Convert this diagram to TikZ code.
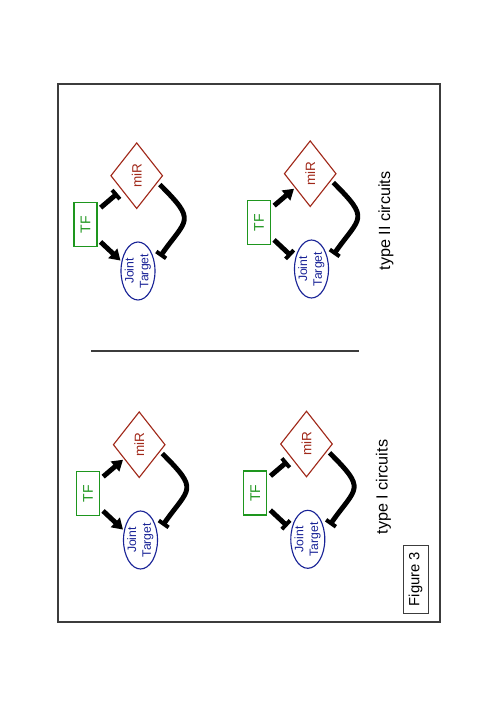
\documentclass[tikz,border=0pt]{standalone}
\usepackage{fontspec}
\setmainfont{Liberation Sans}
\usepackage{graphicx}
\usetikzlibrary{shapes.geometric,arrows.meta}
\definecolor{tfgreen}{RGB}{30,150,30}
\definecolor{mirred}{RGB}{160,40,25}
\definecolor{tgtblue}{RGB}{25,35,150}
\definecolor{framegray}{RGB}{60,60,60}
\begin{document}
\begin{tikzpicture}[x=0.25mm,y=-0.25mm,
  tfbox/.style={draw=tfgreen,text=tfgreen,line width=0.9pt,minimum width=5.75mm,minimum height=11mm,inner sep=0pt,font=\fontsize{10}{12}\selectfont},
  mirdia/.style={diamond,draw=mirred,text=mirred,line width=0.8pt,minimum width=13mm,minimum height=16.5mm,inner sep=0pt,font=\fontsize{9.6}{11}\selectfont},
  tgtell/.style={ellipse,draw=tgtblue,line width=0.8pt,minimum width=8.5mm,minimum height=14.5mm,inner sep=0pt},
  tgttext/.style={text=tgtblue,inner sep=0pt,font=\fontsize{8.7}{10.5}\selectfont},
  link/.style={line width=3.5pt,black},
  act/.style={link,-{Triangle[length=7.5pt,width=9pt]},shorten <=1mm,shorten >=0.3mm},
  inh/.style={link,-{Bar[width=8.5pt,line width=2.8pt]},shorten <=1mm,shorten >=1.3mm},
  curveinh/.style={link,-{Bar[width=8.5pt,line width=2.8pt]},shorten <=0.7mm,shorten >=2.2mm},
  lbl/.style={rotate=90,inner sep=0pt,font=\fontsize{11.5}{13}\selectfont}]
\useasboundingbox (0,0) rectangle (496,702);
\draw[framegray,line width=0.8pt] (58,84) rectangle (440,622);
\coordinate (sepL) at (91,351);
\coordinate (sepR) at (359,351);
\draw[framegray,line width=1pt] (sepL) -- (sepR);
\foreach \n/\x/\y/\a/\b in {a/85.5/224.7/inh/act, b/259/222.7/act/inh, c/88/493.7/act/act, d/255.3/493/inh/inh}{
  \node[tfbox] (\n tf) at (\x,\y) {\rotatebox{90}{TF}};
  \node[mirdia] (\n mir) at (\x+51.2,\y-49) {\rotatebox{90}{miR}};
  \node[tgtell,label={[tgttext]center:\rotatebox{90}{\begin{tabular}{@{}c@{}}Joint\\Target\end{tabular}}}] (\n tgt) at (\x+52.5,\y+46.3) {};
  \draw[\a] (\n tf.50) -- (\n mir.223);
  \draw[\b] (\n tf.-50) -- (\n tgt.150);
  \draw[curveinh] (\n mir.-18) to[out=-45,in=55,looseness=1.75] (\n tgt.23);
}
\node[lbl] (t2) at (386,221) {type II circuits};
\node[lbl] (t1) at (383.5,487) {type I circuits};
\node[draw=framegray,line width=0.6pt,rotate=90,minimum width=17mm,minimum height=6.25mm,inner sep=0pt,font=\fontsize{10.5}{12}\selectfont] (fig) at (415.5,579) {Figure 3};
\end{tikzpicture}
\end{document}
